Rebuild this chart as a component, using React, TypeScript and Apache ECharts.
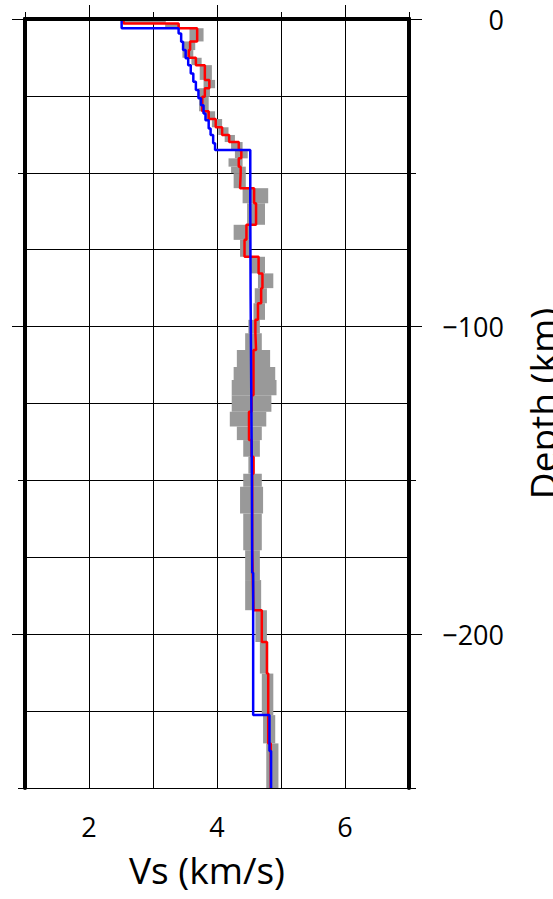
import React, { useEffect, useRef } from "react";
import * as echarts from "echarts";

// Layer boundaries (km, positive downwards) of the inverted model
const modelDepths = [0, 1.5, 3.0, 7.3, 10.1, 12.6, 15.0, 19.8, 22.5, 25.3, 30.0, 32.5, 35.2, 37.7, 40.0, 42.6, 45.3, 48.0, 50.1, 55.0, 59.9, 66.9, 71.8, 77.3, 82.7, 87.5, 92.4, 97.8, 102.2, 107.6, 113.1, 117.4, 122.3, 127.7, 132.5, 136.9, 142.3, 147.8, 152.1, 160.8, 172.7, 182.4, 192.2, 202.5, 212.8, 226.3, 235.5, 250];
// Inverted Vs (red)
const redVs = [2.54, 3.40, 3.69, 3.58, 3.56, 3.67, 3.81, 3.88, 3.81, 3.77, 3.87, 3.98, 4.08, 4.19, 4.34, 4.38, 4.34, 4.37, 4.36, 4.58, 4.61, 4.46, 4.43, 4.65, 4.71, 4.69, 4.64, 4.60, 4.61, 4.57, 4.57, 4.57, 4.54, 4.50, 4.50, 4.54, 4.57, 4.55, 4.55, 4.55, 4.56, 4.57, 4.70, 4.78, 4.80, 4.80, 4.84];
// Uncertainty range (gray)
const grayMin = [2.52, 3.19, 3.57, 3.48, 3.46, 3.60, 3.73, 3.79, 3.71, 3.72, 3.82, 3.92, 4.02, 4.12, 4.22, 4.28, 4.18, 4.22, 4.26, 4.40, 4.47, 4.26, 4.36, 4.52, 4.64, 4.59, 4.57, 4.49, 4.44, 4.31, 4.26, 4.23, 4.23, 4.20, 4.31, 4.41, 4.49, 4.41, 4.36, 4.41, 4.44, 4.44, 4.60, 4.67, 4.70, 4.72, 4.77];
const grayMax = [3.20, 3.42, 3.79, 3.66, 3.63, 3.76, 3.92, 3.97, 3.89, 3.87, 3.97, 4.08, 4.18, 4.28, 4.40, 4.48, 4.40, 4.45, 4.45, 4.80, 4.75, 4.52, 4.52, 4.75, 4.88, 4.78, 4.75, 4.67, 4.70, 4.83, 4.91, 4.93, 4.85, 4.77, 4.70, 4.67, 4.59, 4.70, 4.72, 4.70, 4.67, 4.69, 4.78, 4.80, 4.88, 4.91, 4.96];
// Reference model (blue)
const blueDepths = [0, 3.0, 4.7, 7.4, 10.1, 12.8, 15.0, 17.7, 20.4, 23.1, 25.8, 28.0, 30.7, 32.9, 35.6, 37.7, 40.4, 42.6, 60, 90, 120, 150, 180, 226.3, 238, 250];
const blueVs = [2.51, 3.40, 3.44, 3.47, 3.51, 3.55, 3.59, 3.63, 3.67, 3.71, 3.75, 3.79, 3.82, 3.87, 3.90, 3.94, 3.97, 4.52, 4.525, 4.535, 4.545, 4.55, 4.565, 4.82, 4.845];

const xLabelValues = [2, 4, 6];
const xMinorTicks = [1, 3, 5, 7];
const yLabelValues = [0, -100, -200];
const yMinorTicks = [-50, -150, -250];

const FONT = "Open Sans";

function stepLine(depths: number[], vs: number[]) {
  const pts: number[][] = [];
  for (let i = 0; i < vs.length; i++) {
    pts.push([vs[i], -depths[i]]);
    pts.push([vs[i], -depths[i + 1]]);
  }
  return pts;
}

export default function App() {
  const ref = useRef<HTMLDivElement>(null);
  useEffect(() => {
    const chart = echarts.init(ref.current!, null, { renderer: "svg" });
    const grayData = grayMin.map((mn, i) => [mn, grayMax[i], -modelDepths[i], -modelDepths[i + 1]]);
    const frameLine = { show: true, lineStyle: { color: "#000", width: 4 } };
    const tickStyle = { color: "#000", width: 1 };
    const xBase = { type: "value", min: 1, max: 7, interval: 1, gridIndex: 0 };
    const yBase = { type: "value", min: -250, max: 0, interval: 25, gridIndex: 0 };
    const hidden = { axisLine: { show: false }, axisLabel: { show: false } };
    chart.setOption({
      animation: false,
      grid: { left: 25, top: 19, width: 384, height: 769, containLabel: false, outerBoundsMode: "none" },
      xAxis: [
        {
          ...xBase, position: "bottom", z: 10,
          axisLine: frameLine,
          splitLine: { show: false },
          axisTick: { show: true, customValues: xLabelValues, length: 12, lineStyle: tickStyle },
          axisLabel: { show: true, customValues: xLabelValues, margin: 25, fontSize: 27, color: "#000", fontFamily: FONT },
          name: "Vs (km/s)", nameLocation: "middle", nameGap: 63,
          nameTextStyle: { fontSize: 37, color: "#000", fontFamily: FONT, padding: [0, 20, 0, 0] },
        },
        {
          ...xBase, ...hidden, position: "bottom", z: 0,
          splitLine: { show: false },
          axisTick: { show: true, customValues: xMinorTicks, length: 6, lineStyle: tickStyle },
        },
        {
          ...xBase, ...hidden, position: "top", z: 10,
          axisLine: frameLine,
          splitLine: { show: false },
          axisTick: { show: true, customValues: xLabelValues, length: 14, lineStyle: tickStyle },
        },
        {
          ...xBase, ...hidden, position: "top", z: 0,
          splitLine: { show: false },
          axisTick: { show: true, customValues: xMinorTicks, length: 7, lineStyle: tickStyle },
        },
        {
          ...xBase, ...hidden, position: "bottom", z: 0,
          axisTick: { show: false },
          splitLine: { show: true, lineStyle: { color: "#000", width: 1 } },
        },
      ],
      yAxis: [
        {
          ...yBase, position: "right", z: 10,
          axisLine: frameLine,
          splitLine: { show: false },
          axisTick: { show: true, customValues: yLabelValues, length: 13, lineStyle: tickStyle },
          axisLabel: {
            show: true, customValues: yLabelValues, align: "right", margin: 95, fontSize: 27, color: "#000", fontFamily: FONT,
            formatter: (v: number) => (v < 0 ? "\u2212" + Math.abs(v) : String(v)),
          },
          name: "Depth (km)", nameLocation: "middle", nameRotate: 90, nameGap: 115,
          nameTextStyle: { fontSize: 37, color: "#000", fontFamily: FONT },
        },
        {
          ...yBase, ...hidden, position: "right", z: 0,
          splitLine: { show: false },
          axisTick: { show: true, customValues: yMinorTicks, length: 7, lineStyle: tickStyle },
        },
        {
          ...yBase, ...hidden, position: "left", z: 10,
          axisLine: frameLine,
          splitLine: { show: false },
          axisTick: { show: true, customValues: yLabelValues, length: 13, lineStyle: tickStyle },
        },
        {
          ...yBase, ...hidden, position: "left", z: 0,
          splitLine: { show: false },
          axisTick: { show: true, customValues: yMinorTicks, length: 7, lineStyle: tickStyle },
        },
        {
          ...yBase, ...hidden, position: "left", z: 0,
          axisTick: { show: false },
          splitLine: { show: true, lineStyle: { color: "#000", width: 1 } },
        },
      ],
      series: [
        {
          type: "custom",
          name: "range",
          xAxisIndex: 0,
          yAxisIndex: 0,
          z: 2,
          data: grayData,
          encode: { x: [0, 1], y: [2, 3] },
          renderItem: (params: any, api: any) => {
            const a = api.coord([api.value(0), api.value(2)]);
            const b = api.coord([api.value(1), api.value(3)]);
            return {
              type: "rect",
              shape: { x: a[0], y: a[1], width: b[0] - a[0], height: b[1] - a[1] },
              style: { fill: "#999999" },
            };
          },
        },
        {
          type: "line",
          name: "inverted",
          xAxisIndex: 0,
          yAxisIndex: 0,
          z: 3,
          data: stepLine(modelDepths, redVs),
          showSymbol: false,
          symbol: "none",
          lineStyle: { color: "#ff0000", width: 2.5 },
        },
        {
          type: "line",
          name: "reference",
          xAxisIndex: 0,
          yAxisIndex: 0,
          z: 4,
          data: stepLine(blueDepths, blueVs),
          showSymbol: false,
          symbol: "none",
          lineStyle: { color: "#0000ff", width: 2.5 },
        },
      ],
    });
    return () => chart.dispose();
  }, []);
  return <div ref={ref} style={{ position: "absolute", left: 0, top: 0, width: 553, height: 899 }} />;
}
